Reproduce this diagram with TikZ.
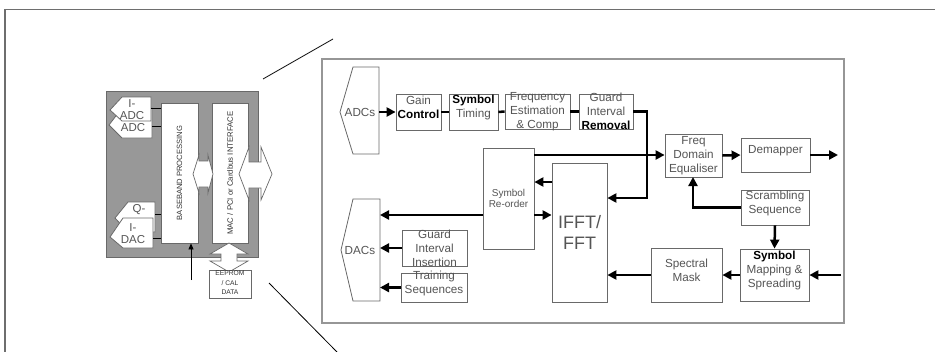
\documentclass[tikz,border=0pt]{standalone}
\usepackage{fontspec}
\setmainfont{Liberation Sans}
\usetikzlibrary{arrows.meta,fit,calc}
\definecolor{txt}{RGB}{85,85,85}
\definecolor{edge}{RGB}{105,105,105}
\definecolor{panel}{RGB}{152,152,152}
\definecolor{framec}{RGB}{110,110,110}
\definecolor{panelframe}{RGB}{150,150,150}
\begin{document}
\begin{tikzpicture}[x=1pt,y=-1pt,
  box/.style={draw=edge, line width=0.8pt, fill=white, inner sep=0pt, align=center, text=txt, font=\fontsize{11.7}{14}\selectfont},
  lbl/.style={inner sep=0pt, align=center, text=txt, font=\fontsize{11.7}{14}\selectfont},
  shp/.style={draw=edge, line width=0.8pt, fill=white},
  arr/.style={line width=2.5pt, -{Triangle[length=9pt,width=9pt]}},
  link/.style={line width=2.5pt},
  thin/.style={line width=0.8pt, black},
  dbl/.style={draw=edge, line width=0.7pt, fill=white},
]
\useasboundingbox (0,0) rectangle (935,351);
% outer frame
\draw[framec, line width=1.5pt] (5,352) -- (5,9.5) -- (936,9.5);
% zoom lines
\draw[line width=0.8pt] (263,79) -- (333,39);
\draw[line width=0.8pt] (269,283) -- (337,352);

% ================= left small panel =================
\fill[panel, draw=edge, line width=0.6pt] (106,91) rectangle (258,257);
\node[box, fit={(161,103) (198,243)}] (bb) {};
\node[inner sep=0pt, rotate=90, font=\fontsize{7.6}{9}\selectfont, text=black!80] (bbt) at (bb) {BASEBAND PROCESSING};
\node[box, fit={(212,103) (248,243)}] (mac) {};
\node[inner sep=0pt, rotate=90, font=\fontsize{7.8}{9}\selectfont, text=black!80] (mact) at (mac) {MAC / PCI or Cardbus INTERFACE};

% ADC / DAC shapes (back first; hidden parts of their texts are left out)
\draw[shp] (152,108) -- (122,108) -- (109,125) -- (122,138) -- (152,138) -- cycle;
\node[lbl, font=\fontsize{11.5}{12.5}\selectfont] (qadc) at (133,128) {ADC};
\draw[shp] (151,97) -- (122,97) -- (110,110) -- (122,121) -- (151,121) -- cycle;
\node[lbl, font=\fontsize{11.5}{12.5}\selectfont] (iadc) at (132,109.5) {I-\\ADC};
\draw[shp] (155,202) -- (128,202) -- (115,218) -- (128,232) -- (155,232) -- cycle;
\node[lbl, font=\fontsize{11.5}{12.5}\selectfont] (qdac) at (139,210) {Q-};
\draw[shp] (153,218) -- (123,218) -- (110,237) -- (123,248) -- (153,248) -- cycle;
\node[lbl, font=\fontsize{11.5}{12.5}\selectfont] (idac) at (133,233.5) {I-\\DAC};
\coordinate (a1) at (151,108);
\coordinate (a2) at (152,126);
\coordinate (d1) at (155,214);
\coordinate (d2) at (153,238);
\draw[thin] (a1) -- (a1 -| bb.west);
\draw[thin] (a2) -- (a2 -| bb.west);
\draw[thin] (d1) -- (d1 -| bb.west);
\draw[thin] (d2) -- (d2 -| bb.west);

% small double arrow between BB and MAC
\draw[dbl] (193,174) -- (199,155) -- (199,161) -- (208,161) -- (208,155) -- (213,174)
  -- (208,193) -- (208,187) -- (199,187) -- (199,193) -- cycle;
% large double arrow right of MAC
\draw[dbl] (239,174) -- (249,147) -- (249,162) -- (261,162) -- (261,147) -- (272,174)
  -- (261,200) -- (261,188) -- (249,188) -- (249,200) -- cycle;
% vertical double arrow below MAC
\draw[dbl] (229,243) -- (248,254) -- (237,254) -- (237,261) -- (248,261) -- (229,272)
  -- (210,261) -- (221,261) -- (221,254) -- (210,254) -- cycle;
\node[box, fit={(209,270) (251,298)}] (eep) {};
\node[lbl, font=\fontsize{6.7}{9.5}\selectfont, text=black!80] (eept) at (230,283) {EEPROM\\/ CAL\\DATA};
\coordinate (bbin) at (191,280);
\draw[line width=0.8pt, -{Triangle[length=6pt,width=5pt]}] (bbin) -- (bbin |- bb.south);

% ================= right big panel =================
\draw[panelframe, line width=1.2pt] (322,59) rectangle (844,323);

% ADCs / DACs
\draw[shp] (379,67) -- (353,67) -- (340,112) -- (353,154) -- (379,154) -- cycle;
\node[lbl] (adcs) at (360,112) {ADCs};
\coordinate (adcsout) at (379,112);
\draw[shp] (380,199) -- (353,199) -- (341,250) -- (353,301) -- (380,301) -- cycle;
\node[lbl] (dacs) at (360,250) {DACs};
\coordinate (dacR) at (380,250);

% top row
\node[box, fit={(396,94) (441,130)}] (gain) {Gain\\\textbf{\color{black}Control}};
\node[box, fit={(449,94) (498,130)}] (sym) {\textbf{\color{black}Symbol}\\Timing};
\node[box, fit={(505,94) (570,129)}] (freq) {};
\node[lbl] (freqt) at (freq) {Frequency\\Estimation\\\& Comp};
\node[box, fit={(579,94) (633,129)}] (guard) {};
\node[lbl] (guardt) at (guard) {Guard\\Interval\\\textbf{\color{black}Removal}};

% middle
\node[box, fit={(483,148) (534,249)}] (reorder) {};
\node[lbl, font=\fontsize{10}{11.5}\selectfont] (reordert) at (reorder) {Symbol\\Re-order};
\node[box, fit={(552,163) (607,302)}] (ifft) {};
\node[lbl, font=\fontsize{18}{21}\selectfont] (ifftt) at (ifft) {IFFT/\\FFT};
\node[box, fit={(665,134) (722,177)}] (fde) {};
\node[lbl] (fdet) at (fde) {Freq\\Domain\\Equaliser};
\node[box, fit={(741,138) (810,172)}] (demap) {Demapper};
\node[box, fit={(741,190) (809,225)}] (scr) {Scrambling\\Sequence};
\node[box, fit={(740,249) (809,301)}] (sms) {\textbf{\color{black}Symbol}\\Mapping \&\\Spreading};
\node[box, fit={(651,248) (722,302)}] (spec) {Spectral\\Mask};
\node[box, fit={(402,230) (467,266)}] (gii) {};
\node[lbl] (giit) at (gii) {Guard\\Interval\\Insertion};
\node[box, fit={(401,273) (467,302)}] (train) {Training\\Sequences};

% connectors
\draw[arr] (adcsout) -- (gain.west);
\draw[link] (gain.east) -- (sym.west);
\draw[link] (sym.east) -- (freq.west);
\draw[link] (freq.east) -- (guard.west);
\coordinate (jn) at (647,198);
\draw[arr] (guard.east) -| (jn) -- (jn -| ifft.east);
\coordinate (ro3) at (534,155);
\draw[arr] (ro3) -- (ro3 -| fde.west);
\coordinate (if1) at (552,182);
\draw[arr] (if1) -- (if1 -| reorder.east);
\coordinate (ro2) at (534,215);
\draw[arr] (ro2) -- (ro2 -| ifft.west);
\coordinate (ro1) at (483,215);
\draw[arr] (ro1) -- (ro1 -| dacR);
\draw[arr] (gii.west) -- (gii.west -| dacR);
\draw[arr] (train.west) -- (train.west -| dacR);
\draw[arr] (fde.east) -- (demap.west);
\coordinate (out) at (838,155);
\draw[arr] (demap.east) -- (out);
\coordinate (fdein) at (693,177);
\draw[arr] (scr.west) -| (fdein);
\draw[arr] (scr.south) -- (sms.north);
\coordinate (inR) at (841,275);
\draw[arr] (inR) -- (inR -| sms.east);
\draw[arr] (sms.west) -- (sms.west -| spec.east);
\draw[arr] (spec.west) -- (spec.west -| ifft.east);
\end{tikzpicture}
\end{document}
